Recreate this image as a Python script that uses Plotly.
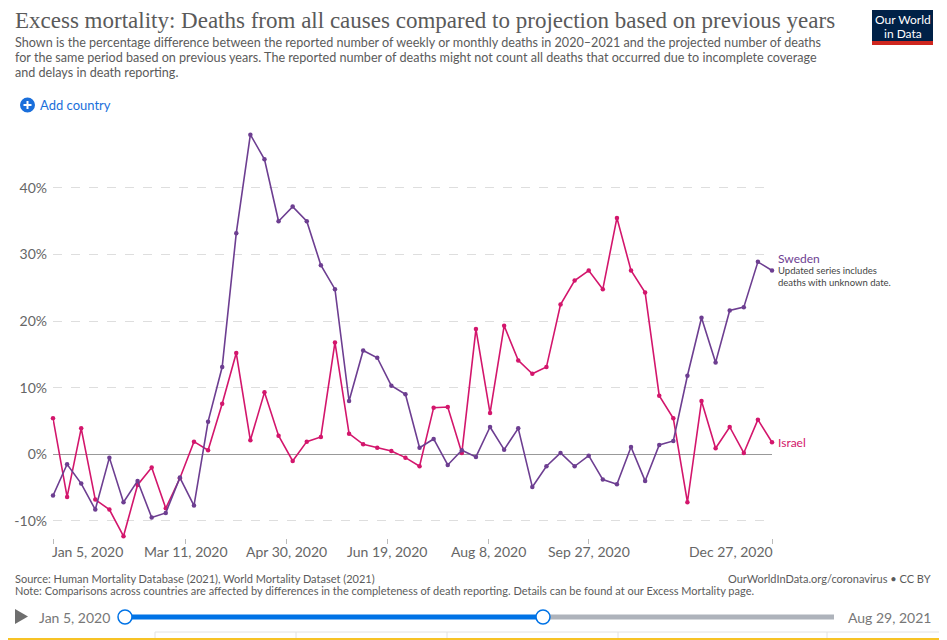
import pandas as pd
import plotly.graph_objects as go

# weekly dates, Jan 5 2020 .. Dec 27 2020
dates = pd.date_range('2020-01-05', periods=52, freq='7D')

sweden = [-6.2, -1.5, -4.4, -8.3, -0.5, -7.2, -4.0, -9.5, -8.8, -3.5,
          -7.7, 4.9, 13.1, 33.2, 48.0, 44.3, 35.0, 37.2, 35.0, 28.4,
          24.8, 8.0, 15.6, 14.5, 10.3, 9.0, 1.0, 2.3, -1.6, 0.6,
          -0.4, 4.1, 0.7, 3.9, -4.9, -1.8, 0.2, -1.8, -0.2, -3.8,
          -4.5, 1.1, -4.0, 1.4, 2.0, 11.8, 20.5, 13.8, 21.6, 22.1,
          28.9, 27.6]

israel = [5.4, -6.4, 3.9, -6.8, -8.3, -12.3, -4.6, -2.0, -8.1, -3.6,
          1.9, 0.6, 7.6, 15.2, 2.1, 9.3, 2.8, -1.0, 1.9, 2.6,
          16.8, 3.1, 1.5, 1.0, 0.5, -0.5, -1.8, 7.0, 7.1, 0.2,
          18.8, 6.2, 19.3, 14.1, 12.1, 13.1, 22.5, 26.1, 27.6, 24.8,
          35.5, 27.6, 24.3, 8.8, 5.4, -7.2, 8.0, 0.9, 4.1, 0.2,
          5.2, 1.8]

tick_dates = ['2020-01-05', '2020-03-11', '2020-04-30', '2020-06-19',
              '2020-08-08', '2020-09-27', '2020-12-27']
tick_labels = ['Jan 5, 2020', 'Mar 11, 2020', 'Apr 30, 2020', 'Jun 19, 2020',
               'Aug 8, 2020', 'Sep 27, 2020', 'Dec 27, 2020']
y_ticks = [-10, 0, 10, 20, 30, 40]

colors = {'Sweden': '#6d3e91', 'Israel': '#d3166c'}

W, H = 947, 640
OFF = 8  # page body margin, everything is laid out in screen pixels
ML, MR, MT, MB = 53 - OFF, 175 + OFF, 134 - OFF, 102 + OFF
PW, PH = W - ML - MR, H - MT - MB


def px(x):
    # screen pixel -> paper x
    return (x - OFF - ML) / PW


def py(y):
    # screen pixel -> paper y
    return (H - MB - (y - OFF)) / PH


fig = go.Figure()
for name, vals in [('Israel', israel), ('Sweden', sweden)]:
    fig.add_trace(go.Scatter(x=dates, y=vals, name=name, mode='lines+markers',
                             line=dict(color=colors[name], width=1.6),
                             marker=dict(color=colors[name], size=4.5),
                             cliponaxis=False, showlegend=False))

fig.update_layout(
    width=W, height=H,
    margin=dict(l=ML, r=MR, t=MT, b=MB),
    plot_bgcolor='white', paper_bgcolor='white',
    font=dict(family='Lato', color='#666'),
    xaxis=dict(range=[dates[0], dates[-1]], showgrid=False, zeroline=False,
               tickvals=pd.to_datetime(tick_dates), ticktext=['' for _ in tick_dates],
               ticks='outside', ticklen=5, tickcolor='#bbb', showline=False,
               automargin=False),
    yaxis=dict(range=[-12.57, 48.1], tickvals=y_ticks,
               ticktext=[f'{v}%' for v in y_ticks], ticks='', ticklabelstandoff=5,
               tickfont=dict(size=14, color='#666'), automargin=False,
               showgrid=True, gridcolor='#dedede', griddash='dash', gridwidth=1,
               zeroline=True, zerolinecolor='#999', zerolinewidth=1),
)

# x tick labels: first left-aligned, last right-aligned
for i, (d, lab) in enumerate(zip(tick_dates, tick_labels)):
    anchor, shift = 'center', 0
    if i == 0:
        anchor, shift = 'left', -3
    elif i == len(tick_dates) - 1:
        anchor, shift = 'right', 3
    fig.add_annotation(x=d, xref='x', y=py(551), yref='paper', text=lab,
                       showarrow=False, xanchor=anchor, yanchor='middle', xshift=shift,
                       font=dict(size=14, color='#666'))

# series labels
fig.add_annotation(x=dates[-1], xref='x', y=sweden[-1], yref='y', yshift=12,
                   xshift=4, text='Sweden', showarrow=False, xanchor='left',
                   yanchor='middle', font=dict(size=12, color=colors['Sweden']))
fig.add_annotation(x=dates[-1], xref='x', y=sweden[-1], yref='y', yshift=-6,
                   xshift=4, text='Updated series includes<br>deaths with unknown date.',
                   showarrow=False, xanchor='left', yanchor='middle', align='left',
                   font=dict(size=9.5, color='#444'))
fig.add_annotation(x=dates[-1], xref='x', y=israel[-1], yref='y', xshift=4,
                   text='Israel', showarrow=False, xanchor='left', yanchor='middle',
                   font=dict(size=12, color=colors['Israel']))

# header
fig.add_annotation(x=px(13), y=py(21), xref='paper', yref='paper', xanchor='left',
                   yanchor='middle', showarrow=False,
                   text='Excess mortality: Deaths from all causes compared to projection based on previous years',
                   font=dict(family='Liberation Serif', size=23, color='#5a5a5a'))
subtitle = ['Shown is the percentage difference between the reported number of weekly or monthly deaths in 2020–2021 and the projected number of deaths',
            'for the same period based on previous years. The reported number of deaths might not count all deaths that occurred due to incomplete coverage',
            'and delays in death reporting.']
for i, line in enumerate(subtitle):
    fig.add_annotation(x=px(13), y=py(42 + 15 * i), xref='paper', yref='paper',
                       xanchor='left', yanchor='middle', showarrow=False, text=line,
                       font=dict(size=12.6, color='#5b5b5b'))

# logo
fig.add_shape(type='rect', xref='paper', yref='paper', x0=px(872), x1=px(933),
              y0=py(41), y1=py(10), fillcolor='#002147', line_width=0)
fig.add_shape(type='rect', xref='paper', yref='paper', x0=px(872), x1=px(933),
              y0=py(45), y1=py(41), fillcolor='#ce261e', line_width=0)
for txt, yy in [('Our World', 20), ('in Data', 33)]:
    fig.add_annotation(x=px(902.5), y=py(yy), xref='paper', yref='paper',
                       showarrow=False, text=txt, xanchor='center', yanchor='middle',
                       font=dict(size=12, color='white'))

# add country button
fig.add_shape(type='circle', xref='paper', yref='paper', x0=px(20), x1=px(35),
              y0=py(112.5), y1=py(97.5), fillcolor='#1a6fdb', line_width=0)
fig.add_shape(type='line', xref='paper', yref='paper', x0=px(23.5), x1=px(31.5),
              y0=py(105), y1=py(105), line=dict(color='white', width=2))
fig.add_shape(type='line', xref='paper', yref='paper', x0=px(27.5), x1=px(27.5),
              y0=py(101), y1=py(109), line=dict(color='white', width=2))
fig.add_annotation(x=px(38), y=py(105), xref='paper', yref='paper', showarrow=False,
                   xanchor='left', yanchor='middle', text='Add country',
                   font=dict(size=13, color='#1a6fdb'))

# footer
fig.add_annotation(x=px(13), y=py(578), xref='paper', yref='paper', showarrow=False,
                   xanchor='left', yanchor='middle',
                   text='Source: Human Mortality Database (2021), World Mortality Dataset (2021)',
                   font=dict(size=11, color='#5b5b5b'))
fig.add_annotation(x=px(13), y=py(590), xref='paper', yref='paper', showarrow=False,
                   xanchor='left', yanchor='middle',
                   text='Note: Comparisons across countries are affected by differences in the completeness of death reporting. Details can be found at our Excess Mortality page.',
                   font=dict(size=11, color='#5b5b5b'))
fig.add_annotation(x=px(933), y=py(578), xref='paper', yref='paper', showarrow=False,
                   xanchor='right', yanchor='middle',
                   text='OurWorldInData.org/coronavirus • CC BY',
                   font=dict(size=11, color='#5b5b5b'))

# timeline slider
fig.add_shape(type='path', xref='paper', yref='paper',
              path=f'M {px(15)},{py(609)} L {px(28)},{py(616.5)} L {px(15)},{py(624)} Z',
              fillcolor='#6e6e6e', line_width=0)
fig.add_annotation(x=px(37), y=py(617), xref='paper', yref='paper', showarrow=False,
                   xanchor='left', yanchor='middle', text='Jan 5, 2020',
                   font=dict(size=14, color='#777'))
fig.add_shape(type='line', xref='paper', yref='paper', x0=px(543), x1=px(834),
              y0=py(617), y1=py(617), line=dict(color='#aeb3bb', width=5))
fig.add_shape(type='line', xref='paper', yref='paper', x0=px(125), x1=px(543),
              y0=py(617), y1=py(617), line=dict(color='#0073e6', width=5))
for cx in [125, 543]:
    fig.add_shape(type='circle', xref='paper', yref='paper', x0=px(cx - 7), x1=px(cx + 7),
                  y0=py(624), y1=py(610), fillcolor='white',
                  line=dict(color='#0073e6', width=1.5))
fig.add_annotation(x=px(933), y=py(617), xref='paper', yref='paper', showarrow=False,
                   xanchor='right', yanchor='middle', text='Aug 29, 2021',
                   font=dict(size=14, color='#777'))

# tab strip at the bottom edge
fig.add_shape(type='line', xref='paper', yref='paper', x0=px(155), x1=px(947),
              y0=py(632), y1=py(632), line=dict(color='#e2e2e2', width=1))
for vx in [155, 296, 447, 618, 827]:
    fig.add_shape(type='line', xref='paper', yref='paper', x0=px(vx), x1=px(vx),
                  y0=py(632), y1=py(639), line=dict(color='#e2e2e2', width=1))
fig.add_shape(type='line', xref='paper', yref='paper', x0=px(0), x1=px(947),
              y0=py(639), y1=py(639), line=dict(color='#f7c325', width=2))

fig.write_html("out.html")
